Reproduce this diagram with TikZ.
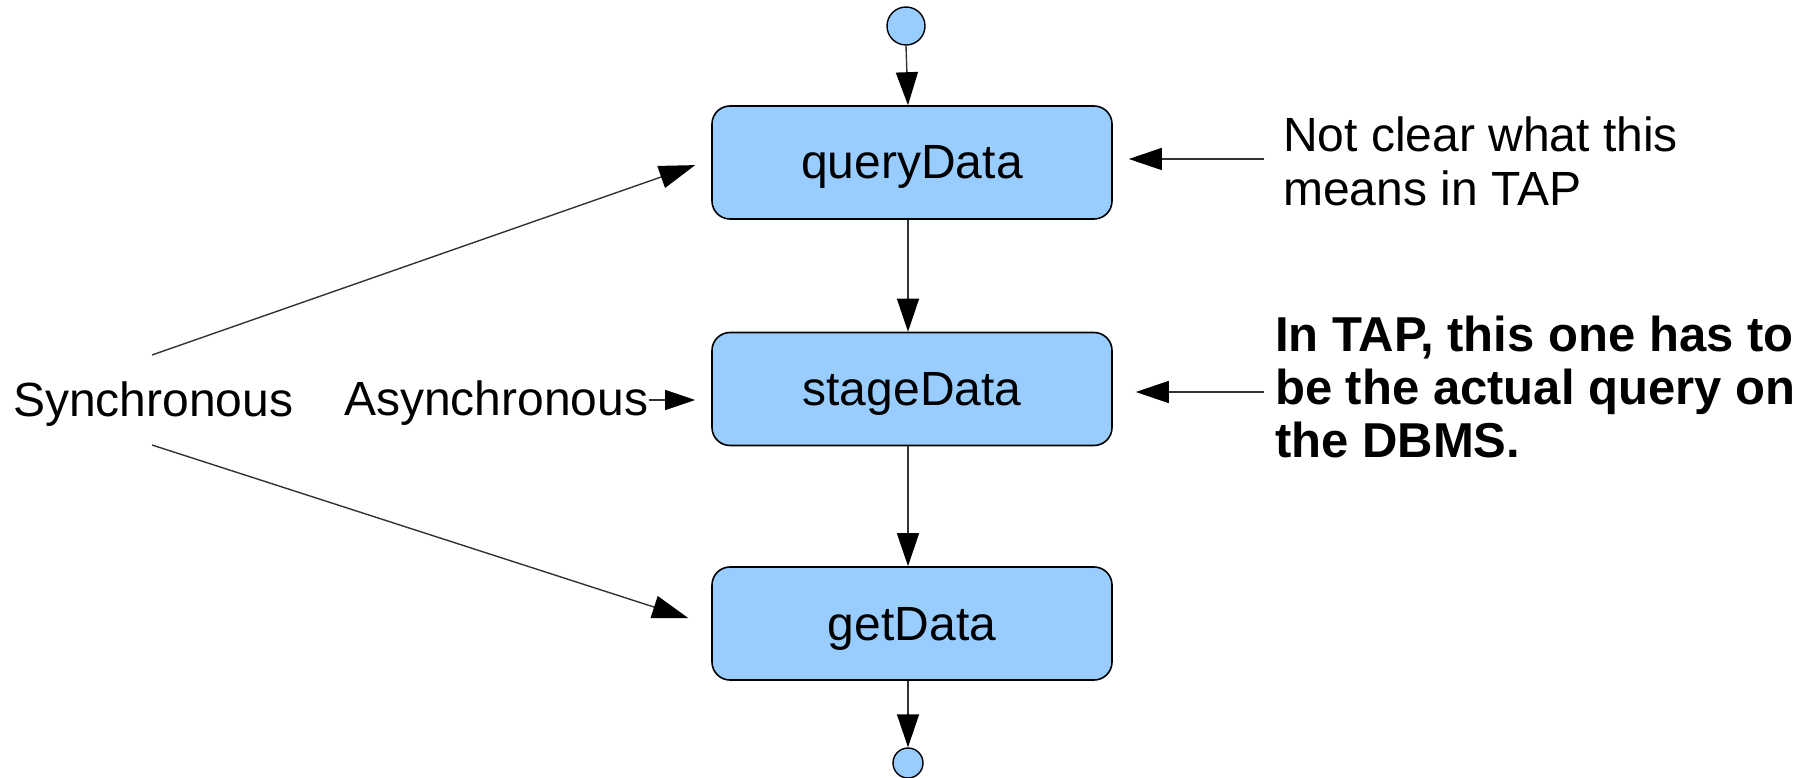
\documentclass[tikz,border=0pt]{standalone}
\usepackage{fontspec}
\setmainfont{Liberation Sans}
\usetikzlibrary{arrows.meta}
\definecolor{boxblue}{HTML}{99CCFF}
\definecolor{linegray}{HTML}{333333}
\begin{document}
\begin{tikzpicture}[x=1pt,y=-1pt,
  every node/.style={font=\fontsize{48}{54}\selectfont},
  actbox/.style={draw=black,line width=1.6pt,fill=boxblue,rounded corners=18pt,
    minimum width=400pt,minimum height=113pt,inner sep=0pt,text height=33pt,text depth=0pt},
  endpt/.style={circle,draw=black,line width=1.4pt,fill=boxblue,inner sep=0pt},
  lbl/.style={inner sep=0pt,align=left},
  arr/.style={draw=linegray,line width=1.4pt,-{Triangle[length=33pt,width=22pt,color=black]}}
]
\useasboundingbox (0,0) rectangle (1805,778);
\node[endpt,minimum size=38pt] (start) at (906,26) {};
\node[actbox] (qd) at (912,162.5) {queryData};
\node[actbox] (sd) at (912,389) {stageData};
\node[actbox] (gd) at (912,623.5) {getData};
\node[endpt,minimum size=30pt] (stop) at (908,763) {};

\node[lbl,anchor=base west] (sync) at (13,416) {Synchronous};
\node[lbl,anchor=base west] (async) at (344,415) {Asynchronous};
\node[lbl,anchor=north west] (note1) at (1283,117) {Not clear what this\\means in TAP};
\node[lbl,anchor=north west,font=\fontsize{49}{53}\selectfont\bfseries] (note2) at (1275,316)
  {In TAP, this one has to\\be the actual query on\\the DBMS.};

\coordinate (s1) at (152,355);
\coordinate (s2) at (152,445);
\coordinate (n1) at (1264,159);
\coordinate (n2) at (1264,392);

\draw[arr] (start.south) -- ([xshift=-4pt]qd.north);
\draw[arr] ([xshift=-4pt]qd.south) -- ([xshift=-4pt]sd.north);
\draw[arr] ([xshift=-4pt]sd.south) -- ([xshift=-4pt]gd.north);
\draw[arr] ([xshift=-4pt]gd.south) -- (stop.north);

\draw[arr,-{Triangle[length=36pt,width=23pt,color=black]},shorten >=17pt] (s1) -- ([yshift=3pt]qd.west);
\draw[arr,-{Triangle[length=36pt,width=23pt,color=black]},shorten >=24pt] (s2) -- ([yshift=-2pt]gd.west);
\draw[arr,-{Triangle[length=30pt,width=20pt,color=black]},shorten >=16pt] ([yshift=15pt]async.base east) -- ([yshift=-11pt]sd.west);
\draw[arr,shorten >=16pt] (n1) -- ([yshift=3.5pt]qd.east);
\draw[arr,shorten >=23pt] (n2) -- ([yshift=-3pt]sd.east);
\end{tikzpicture}
\end{document}
